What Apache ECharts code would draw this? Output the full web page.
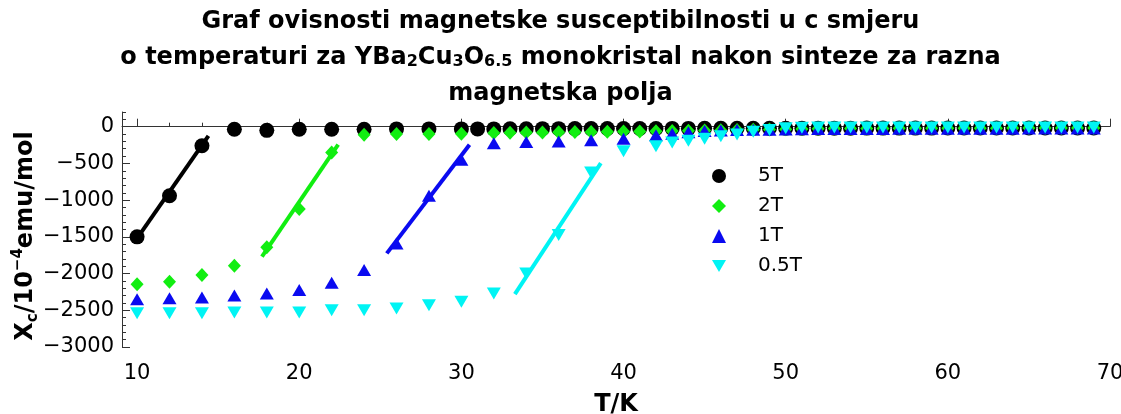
<!DOCTYPE html>
<html><head><meta charset="utf-8">
<script src="https://cdn.jsdelivr.net/npm/echarts@6/dist/echarts.min.js"></script>
<style>html,body{margin:0;padding:0;background:#fff}#c{width:1121px;height:414px}</style>
</head><body><div id="c"></div>
<script>
// ---- data ----
const seriesNames = ['5T', '2T', '1T', '0.5T'];

const t5 = [10,12,14,16,18,20,22,24,26,28,30,31,32,33,34,35,36,37,38,39,40,41,42,43,44,45,46,47,48,49,50,51,52,53,54,55,56,57,58,59,60,61,62,63,64,65,66,67,68,69];
const v5 = [-1500,-940,-260,-35,-50,-35,-35,-35,-30,-30,-30,-30,-30,-28,-28,-27,-27,-26,-26,-25,-25,-24,-24,-23,-23,-22,-22,-22,-21,-21,-20,-20,-20,-20,-20,-19,-19,-19,-19,-19,-18,-18,-18,-18,-18,-18,-17,-17,-17,-17];

const t2 = [10,12,14,16,18,20,22,24,26,28,30,32,33,34,35,36,37,38,39,40,41,42,43,44,45,46,47,48,49,50,51,52,53,54,55,56,57,58,59,60,61,62,63,64,65,66,67,68,69];
const v2 = [-2145,-2110,-2020,-1895,-1640,-1120,-350,-110,-100,-100,-95,-85,-82,-80,-78,-76,-74,-72,-70,-67,-64,-61,-58,-55,-52,-48,-45,-42,-38,-34,-30,-28,-26,-25,-24,-23,-22,-22,-21,-21,-20,-20,-20,-19,-19,-19,-18,-18,-18];

const t1 = [10,12,14,16,18,20,22,24,26,28,30,32,34,36,38,40,42,43,44,45,46,47,48,49,50,51,52,53,54,55,56,57,58,59,60,61,62,63,64,65,66,67,68,69];
const v1 = [-2350,-2335,-2325,-2300,-2270,-2225,-2125,-1950,-1590,-940,-450,-225,-210,-200,-185,-165,-115,-95,-75,-60,-52,-46,-42,-40,-37,-35,-33,-32,-31,-30,-30,-29,-29,-28,-28,-28,-27,-27,-27,-26,-26,-26,-25,-25];

const t05 = [10,12,14,16,18,20,22,24,26,28,30,32,34,36,38,40,42,43,44,45,46,47,48,49,50,51,52,53,54,55,56,57,58,59,60,61,62,63,64,65,66,67,68,69];
const v05 = [-2540,-2540,-2540,-2530,-2530,-2530,-2500,-2500,-2475,-2430,-2385,-2270,-2000,-1475,-625,-335,-265,-215,-190,-165,-130,-105,-70,-45,-20,-15,-12,-10,-10,-10,-10,-10,-10,-10,-10,-10,-10,-10,-10,-10,-10,-10,-10,-10];

// linear fit segments (endpoints)
const fit5  = [[10, -1520], [14.4, -125]];
const fit2  = [[17.7, -1770], [22.4, -245]];
const fit1  = [[25.4, -1725], [30.5, -245]];
const fit05 = [[33.3, -2280], [38.6, -495]];

const xTicks = [10,20,30,40,50,60,70];
const xMinorTicks = [12,14,16,18,22,24,26,28,32,34,36,38,42,44,46,48,52,54,56,58,62,64,66,68];
const yTicks = [-3000,-2500,-2000,-1500,-1000,-500,0];
const yMinorTicks = [-2900,-2800,-2700,-2600,-2400,-2300,-2200,-2100,-1900,-1800,-1700,-1600,-1400,-1300,-1200,-1100,-900,-800,-700,-600,-400,-300,-200,-100,100,200];

const titleText = 'Graf ovisnosti magnetske susceptibilnosti u c smjeru\no temperaturi za YBa{s|2}Cu{s|3}O{s|6.5} monokristal nakon sinteze za razna\nmagnetska polja';
const yName = 'X{sub|c}/10{sup|−4}emu/mol';
const xName = 'T/K';

// ---- chart ----
const FONT = 'DejaVu Sans';
const INV_TRI = 'path://M0,0L14,0L7,12Z';
const colors = ['#000000', '#11ee11', '#0a0af0', '#00f4f4'];
const symbols = ['circle', 'diamond', 'triangle', INV_TRI];
const sizes = [15, [13, 14], [14, 12], [14, 12]];
const pts = [[t5, v5], [t2, v2], [t1, v1], [t05, v05]];
const fits = [fit5, fit2, fit1, fit05];

const XMIN = 9.07, XMAX = 70, YMIN = -3000, YMAX = 200;
const axisColor = '#333';

const series = [];
fits.forEach((f, i) => {
  series.push({
    type: 'line', data: f, showSymbol: false, symbol: 'none',
    lineStyle: { color: colors[i], width: 4 }, z: 2, silent: true,
    xAxisIndex: 0, yAxisIndex: 0
  });
});
pts.forEach((p, i) => {
  series.push({
    name: seriesNames[i], type: 'scatter',
    data: p[0].map((t, k) => [t, p[1][k]]),
    symbol: symbols[i], symbolSize: sizes[i],
    itemStyle: { color: colors[i], opacity: 1 }, z: 3 + i,
    xAxisIndex: 0, yAxisIndex: 0
  });
});

const chart = echarts.init(document.getElementById('c'), null, { renderer: 'canvas' });
chart.setOption({
  animation: false,
  backgroundColor: '#fff',
  textStyle: { fontFamily: FONT },
  title: {
    text: titleText,
    left: 'center', top: 4,
    padding: [0, 0, 0, 112],
    textStyle: {
      fontFamily: FONT, fontWeight: 'bold', fontSize: 24, lineHeight: 36, color: '#000',
      rich: {
        s: { fontFamily: FONT, fontWeight: 'bold', fontSize: 16, lineHeight: 16, padding: [8, 0, 0, 0], verticalAlign: 'middle', color: '#000' }
      }
    }
  },
  graphic: [{
    type: 'text', x: 26, y: 236, rotation: Math.PI / 2, z: 10,
    style: {
      text: yName, fontFamily: FONT, fontWeight: 'bold', fontSize: 24, lineHeight: 30, fill: '#000',
      align: 'center', verticalAlign: 'middle',
      rich: {
        sub: { fontFamily: FONT, fontWeight: 'bold', fontSize: 15, lineHeight: 20, verticalAlign: 'bottom', fill: '#000' },
        sup: { fontFamily: FONT, fontWeight: 'bold', fontSize: 15, lineHeight: 20, verticalAlign: 'top', fill: '#000' }
      }
    }
  }],
  legend: {
    data: seriesNames.map((n, i) => ({ name: n, icon: symbols[i] })),
    orient: 'vertical', left: 707, top: 161,
    itemWidth: 14, itemHeight: 14, itemGap: 10,
    textStyle: { fontFamily: FONT, fontSize: 20, color: '#000', padding: [0, 0, 0, 27] }
  },
  grid: { left: 122, right: 11, top: 112, bottom: 67, containLabel: false, outerBoundsMode: 'none' },
  xAxis: [{
    type: 'value', min: XMIN, max: XMAX, position: 'bottom',
    name: xName, nameLocation: 'middle', nameGap: 46,
    nameTextStyle: { fontFamily: FONT, fontWeight: 'bold', fontSize: 24, color: '#000' },
    axisLine: { show: true, lineStyle: { color: axisColor, width: 1 } },
    axisTick: { show: true, inside: true, length: 8, customValues: xTicks, lineStyle: { color: axisColor } },
    axisLabel: { customValues: xTicks, margin: 16, fontFamily: FONT, fontSize: 21, color: '#000',
      formatter: v => String(v) },
    splitLine: { show: false }
  }, {
    type: 'value', min: XMIN, max: XMAX, position: 'bottom', gridIndex: 0,
    axisLine: { show: false },
    axisTick: { show: true, inside: true, length: 4, customValues: xMinorTicks, lineStyle: { color: axisColor } },
    axisLabel: { show: false }, splitLine: { show: false }
  }],
  yAxis: [{
    type: 'value', min: YMIN, max: YMAX, position: 'left',
    axisLine: { show: true, lineStyle: { color: axisColor, width: 1 } },
    axisTick: { show: true, inside: true, length: 8, customValues: yTicks, lineStyle: { color: axisColor } },
    axisLabel: { customValues: yTicks, margin: 8, fontFamily: FONT, fontSize: 21, color: '#000',
      formatter: v => String(v).replace('-', '\u2212') },
    splitLine: { show: false }
  }, {
    type: 'value', min: YMIN, max: YMAX, position: 'left', gridIndex: 0,
    axisLine: { show: false },
    axisTick: { show: true, inside: true, length: 4, customValues: yMinorTicks, lineStyle: { color: axisColor } },
    axisLabel: { show: false }, splitLine: { show: false }
  }],
  series: series
});
</script>
</body></html>
